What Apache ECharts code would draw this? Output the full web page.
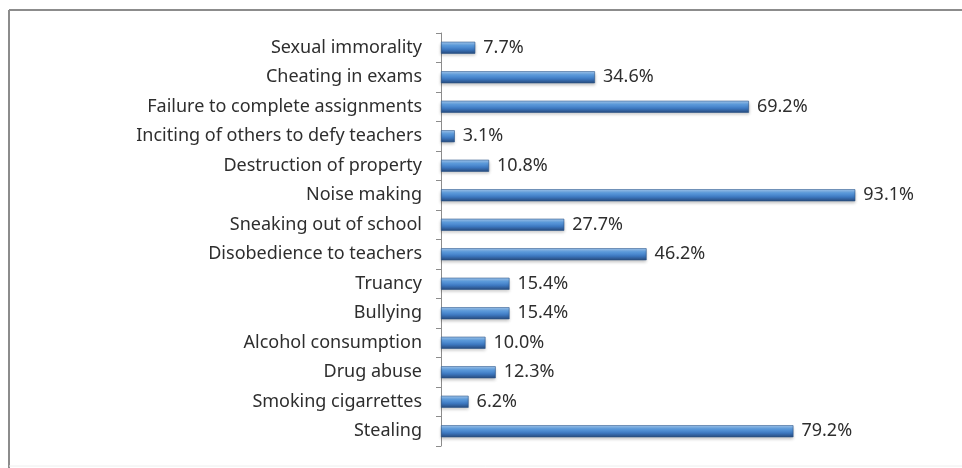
<!DOCTYPE html>
<html>
<head>
<meta charset="utf-8">
<script src="https://cdn.jsdelivr.net/npm/echarts@6/dist/echarts.min.js"></script>
<style>
  html, body { margin: 0; padding: 0; background: #fff; }
  #chart { width: 962px; height: 468px; }
</style>
</head>
<body>
<div id="chart"></div>
<script>
// categories top to bottom
var categories = [
  'Sexual immorality',
  'Cheating in exams',
  'Failure to complete assignments',
  'Inciting of others to defy teachers',
  'Destruction of property',
  'Noise making',
  'Sneaking out of school',
  'Disobedience to teachers',
  'Truancy',
  'Bullying',
  'Alcohol consumption',
  'Drug abuse',
  'Smoking cigarrettes',
  'Stealing'
];
// percentage of respondents
var percents = [7.7, 34.6, 69.2, 3.1, 10.8, 93.1, 27.7, 46.2, 15.4, 15.4, 10.0, 12.3, 6.2, 79.2];

var myChart = echarts.init(document.getElementById('chart'));
var option = {
  animation: false,
  backgroundColor: '#fff',
  graphic: [
    // outer frame of the picture (top + left edges)
    { type: 'line', shape: { x1: 9, y1: 10, x2: 962, y2: 10 }, style: { stroke: '#8c8c8c', lineWidth: 2 } },
    { type: 'line', shape: { x1: 9, y1: 10, x2: 9, y2: 468 }, style: { stroke: '#8c8c8c', lineWidth: 2 } },
    { type: 'line', shape: { x1: 9, y1: 466, x2: 962, y2: 466 }, style: { stroke: '#eeeeee', lineWidth: 1 } }
  ],
  grid: {
    left: 441,
    top: 33,
    width: 445,
    height: 413
  },
  xAxis: {
    type: 'value',
    min: 0,
    max: 100,
    show: false
  },
  yAxis: {
    type: 'category',
    inverse: true,
    data: categories,
    axisLine: { show: true, lineStyle: { color: '#8c8c8c', width: 1 } },
    axisTick: { show: true, length: 5, lineStyle: { color: '#8c8c8c' } },
    axisLabel: {
      margin: 19,
      color: '#2e2e2e',
      fontFamily: 'Noto Sans',
      fontSize: 18
    }
  },
  series: [{
    type: 'bar',
    data: percents,
    barWidth: 12,
    itemStyle: {
      borderColor: '#2a5488',
      borderWidth: 0.6,
      color: new echarts.graphic.LinearGradient(0, 0, 0, 1, [
        { offset: 0, color: '#a8cdf3' },
        { offset: 0.3, color: '#5e9ee0' },
        { offset: 0.65, color: '#3c77bf' },
        { offset: 1, color: '#27497a' }
      ]),
      shadowColor: 'rgba(0,0,0,0.25)',
      shadowBlur: 3,
      shadowOffsetY: 2
    },
    label: {
      show: true,
      position: 'right',
      distance: 8,
      color: '#2e2e2e',
      fontFamily: 'Noto Sans',
      fontSize: 18,
      formatter: function (p) { return p.value.toFixed(1) + '%'; }
    }
  }]
};
myChart.setOption(option);
</script>
</body>
</html>
